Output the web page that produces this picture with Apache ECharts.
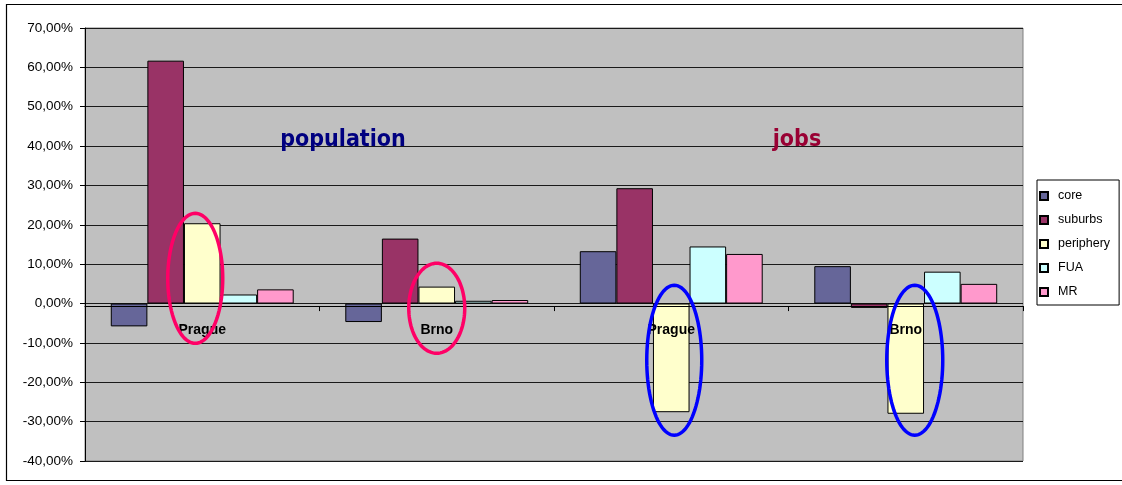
<!DOCTYPE html>
<html>
<head>
<meta charset="utf-8">
<script src="https://cdn.jsdelivr.net/npm/echarts@6/dist/echarts.min.js"></script>
<style>
  html, body { margin: 0; padding: 0; background: #fff; }
  #chart { width: 1122px; height: 485px; }
</style>
</head>
<body>
<div id="chart"></div>
<script>
// Change in population (first two groups) and jobs (last two groups)
const categories = ['Prague', 'Brno', 'Prague', 'Brno'];
const seriesNames = ['core', 'suburbs', 'periphery', 'FUA', 'MR'];
const core      = [-0.058, -0.047,  0.133,  0.095];
const suburbs   = [ 0.617,  0.165,  0.293, -0.011];
const periphery = [ 0.204,  0.043, -0.276, -0.280];
const fua       = [ 0.023,  0.007,  0.145,  0.081];
const mr        = [ 0.036,  0.009,  0.126,  0.050];
const groupTitles = ['population', 'jobs'];

const seriesValues = [core, suburbs, periphery, fua, mr];
const seriesColors = ['#666699', '#993366', '#FFFFCC', '#CCFFFF', '#FF99CC'];
const FONT = "'Liberation Sans', Arial, sans-serif";
const Y_MIN = -0.4, Y_MAX = 0.7;

const chart = echarts.init(document.getElementById('chart'), null, { renderer: 'canvas' });

const pct = v => (v * 100).toFixed(2).replace('.', ',') + '%';

chart.setOption({
  backgroundColor: '#fff',
  animation: false,
  grid: {
    left: 85, top: 28, right: 99, bottom: 24,
    show: true, backgroundColor: '#C0C0C0',
    borderColor: '#808080', borderWidth: 1
  },
  legend: {
    orient: 'vertical', left: 1037, top: 180,
    icon: 'rect', itemWidth: 8, itemHeight: 8, itemGap: 10,
    padding: [9, 9, 6, 2],
    borderColor: '#000', borderWidth: 1, backgroundColor: '#fff',
    textStyle: { fontFamily: FONT, fontSize: 12.5, color: '#000', lineHeight: 14, padding: [0, 0, 0, 5] },
    data: seriesNames
  },
  xAxis: {
    type: 'category', data: categories, z: 10,
    axisLine: { onZero: false, lineStyle: { color: '#000', width: 1 } },
    axisTick: { show: true, length: 5, lineStyle: { color: '#000' } },
    axisLabel: { fontFamily: FONT, fontSize: 14, fontWeight: 'bold', color: '#000', margin: 17 },
    splitLine: { show: false }
  },
  yAxis: {
    type: 'value', min: Y_MIN, max: Y_MAX, interval: 0.1,
    axisLine: { show: true, lineStyle: { color: '#000', width: 1 } },
    axisTick: { show: true, length: 5, lineStyle: { color: '#000' } },
    axisLabel: { fontFamily: FONT, fontSize: 13.5, color: '#000', margin: 12, formatter: pct },
    splitLine: { show: true, lineStyle: { color: '#1a1a1a', width: 1 } }
  },
  series: seriesNames.map((name, i) => ({
    name, type: 'bar', data: seriesValues[i],
    barGap: '0%', barCategoryGap: '22%',
    itemStyle: { color: seriesColors[i], borderColor: '#000', borderWidth: 1 }
  }))
});

// Lift the category axis (line, ticks and labels) up to the 0% line
const zeroY = chart.convertToPixel({ yAxisIndex: 0 }, 0);
const bottomY = chart.convertToPixel({ yAxisIndex: 0 }, Y_MIN);
chart.setOption({ xAxis: { offset: -(bottomY - zeroY) } });

// Annotations: outer frame, group titles and the rings drawn around the periphery bars
const rings = [
  { cat: 0, value: 0.064,  dx: -7, rx: 27.5, ry: 65, color: '#FF0066' },
  { cat: 1, value: -0.012, dx: 0,  rx: 28,   ry: 45, color: '#FF0066' },
  { cat: 2, value: -0.144, dx: 3,  rx: 27.5, ry: 75, color: '#0000FF' },
  { cat: 3, value: -0.144, dx: 9,  rx: 28,   ry: 75, color: '#0000FF' }
];

function ellipsePoints(cx, cy, rx, ry) {
  const pts = [];
  for (let k = 0; k < 96; k++) {
    const t = (k / 96) * Math.PI * 2;
    pts.push([cx + rx * Math.cos(t), cy + ry * Math.sin(t)]);
  }
  return pts;
}

const ringElements = rings.map(r => {
  const p = chart.convertToPixel({ gridIndex: 0 }, [r.cat, r.value]);
  return {
    type: 'polygon', z: 100, silent: true,
    shape: { points: ellipsePoints(p[0] + r.dx, p[1], r.rx, r.ry) },
    style: { fill: 'none', stroke: r.color, lineWidth: 3.5 }
  };
});

chart.setOption({
  graphic: [
    {
      type: 'rect', z: 0, silent: true,
      shape: { x: 6.5, y: 4.5, width: 1120, height: 476 },
      style: { fill: 'none', stroke: '#000', lineWidth: 1.2 }
    },
    {
      type: 'text', z: 50, x: 343, y: 140, silent: true,
      style: { text: groupTitles[0], fill: '#000080', align: 'center', verticalAlign: 'middle',
               font: "bold 23px 'DejaVu Sans Condensed', 'DejaVu Sans', sans-serif" }
    },
    {
      type: 'text', z: 50, x: 797, y: 140, silent: true,
      style: { text: groupTitles[1], fill: '#990033', align: 'center', verticalAlign: 'middle',
               font: "bold 23px 'DejaVu Sans Condensed', 'DejaVu Sans', sans-serif" }
    }
  ].concat(ringElements)
});
</script>
</body>
</html>
